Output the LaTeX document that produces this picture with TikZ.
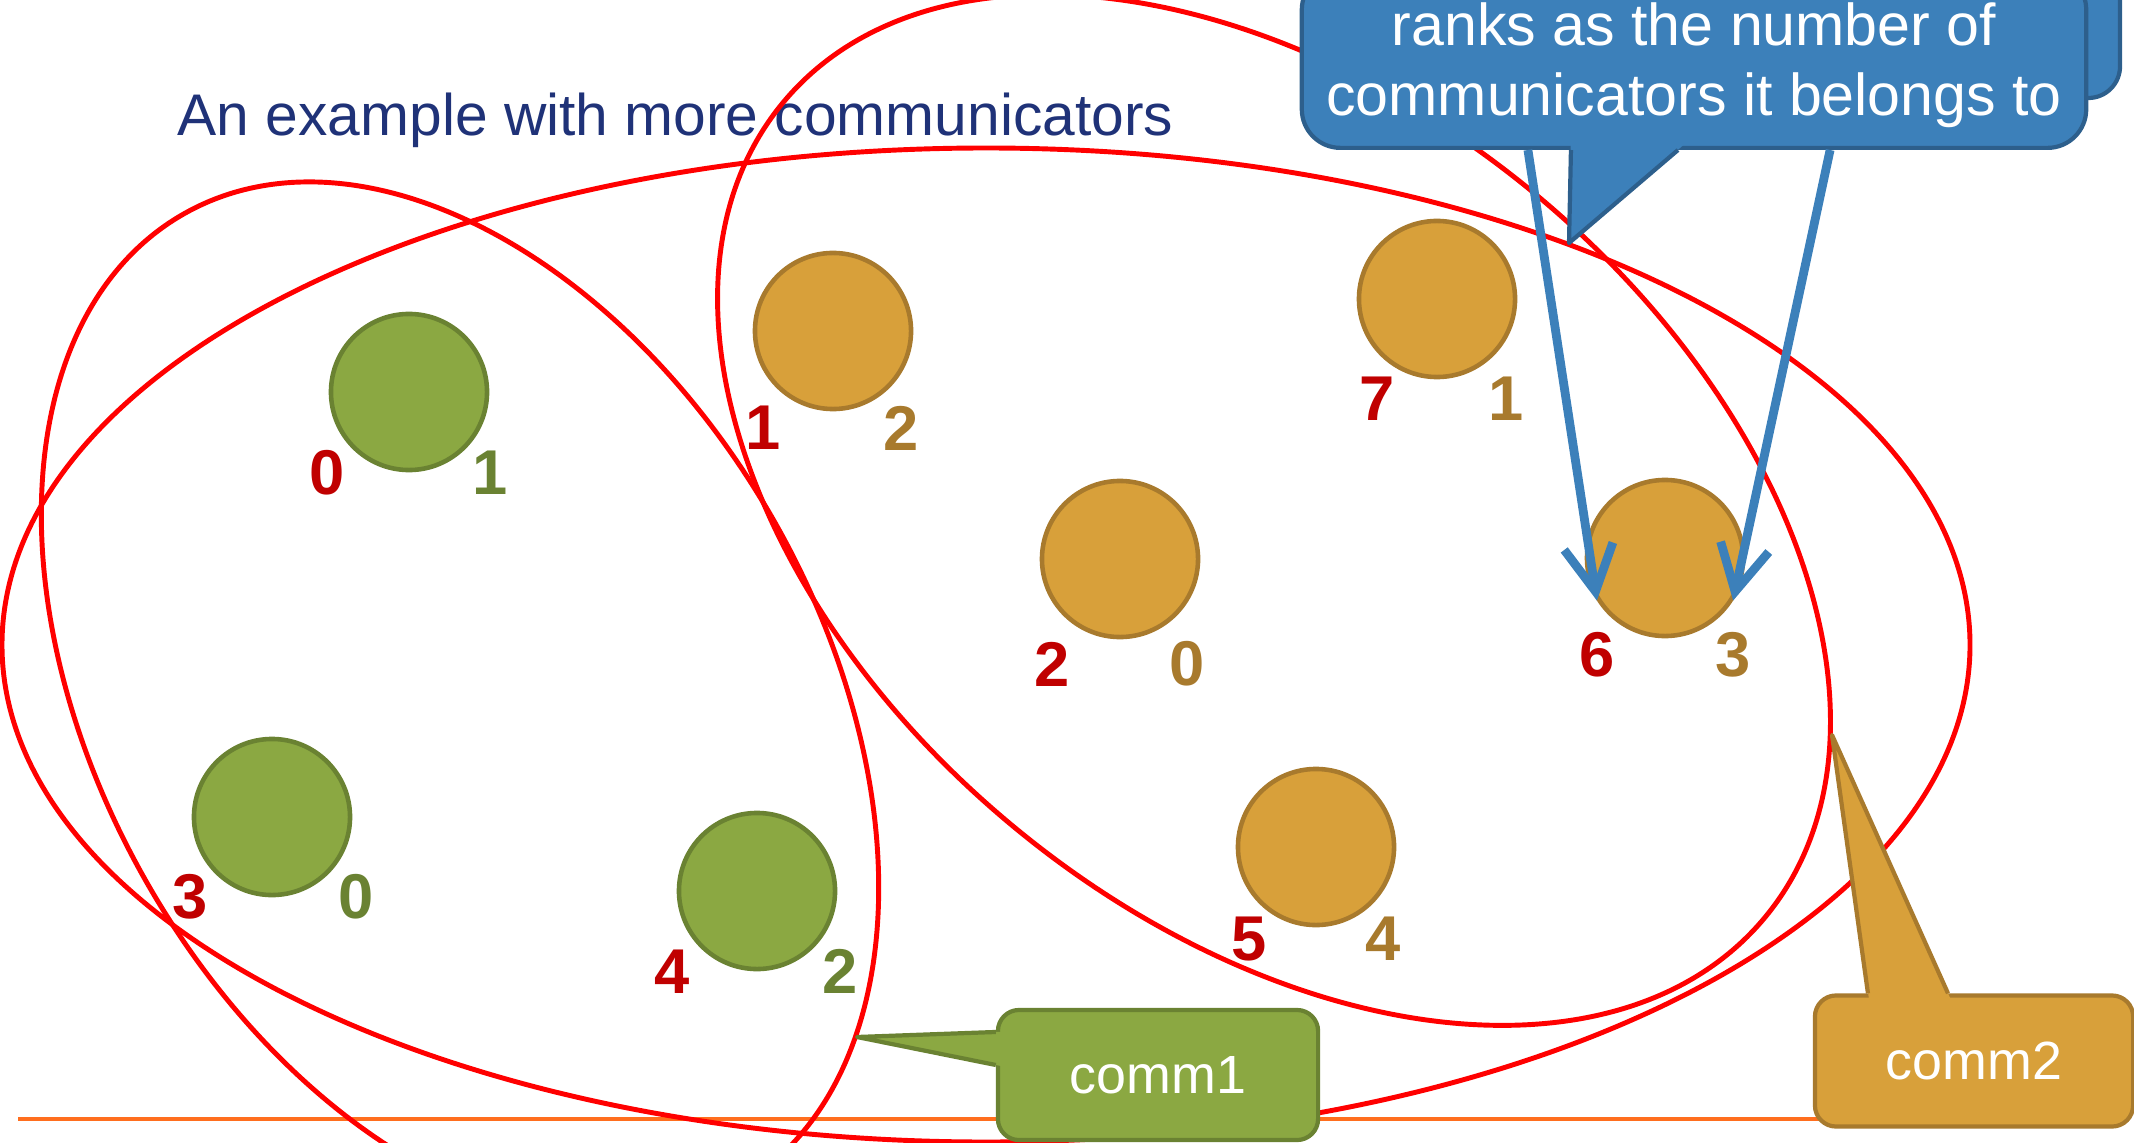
\documentclass[tikz,border=0pt]{standalone}
\usepackage{fontspec}
\setmainfont{Liberation Sans}
\usetikzlibrary{arrows.meta}

\definecolor{grnfill}{RGB}{139,168,66}
\definecolor{grnline}{RGB}{106,130,50}
\definecolor{orgfill}{RGB}{216,160,58}
\definecolor{orgline}{RGB}{168,122,45}
\definecolor{rankred}{RGB}{192,0,0}
\definecolor{noteblue}{RGB}{60,128,186}
\definecolor{noteline}{RGB}{45,95,140}
\definecolor{titleblue}{RGB}{31,50,120}
\definecolor{ruleorange}{RGB}{255,110,30}

\begin{document}
\begin{tikzpicture}
        [x=0.01cm, y=-0.01cm,
        proc/.style={circle, draw, line width=1.3pt, minimum size=1.56cm, inner sep=0pt},
        green proc/.style={proc, fill=grnfill, draw=grnline},
        orange proc/.style={proc, fill=orgfill, draw=orgline},
        rank/.style={font=\fontsize{18}{18}\selectfont\bfseries, inner sep=0pt},
        world/.style={rank, text=rankred},
        sub1/.style={rank, text=grnline},
        sub2/.style={rank, text=orgline},
        ring/.style={red, line width=1.4pt},
        tag/.style={draw, line width=1.2pt, rounded corners=6pt, text=white,
            font=\fontsize{15.3}{18}\selectfont, inner sep=0pt},
        pointer/.style={line width=1.2pt, line join=round},
        hint/.style={noteblue, line width=2.5pt, -{Straight Barb[length=13pt, width=14pt]}}]

        \useasboundingbox (0,0) rectangle (2134,1143);
        \clip (0,0) rectangle (2134,1143);

        \draw[ruleorange, line width=1pt] (18,1119) -- (1820,1119);

        \node[anchor=base west, inner sep=0pt, text=titleblue, font=\fontsize{16.7}{20}\selectfont]
            (title) at (177,136) {An example with more communicators};

        % processes
        \node[green proc] (p0) at (409,392) {};
        \node[green proc] (p3) at (272,817) {};
        \node[green proc] (p4) at (757,891) {};
        \node[orange proc] (p1) at (833,331) {};
        \node[orange proc] (p2) at (1120,559) {};
        \node[orange proc] (p7) at (1437,299) {};
        \node[orange proc] (p6) at (1665,558) {};
        \node[orange proc] (p5) at (1316,847) {};

        % ranks
        \node[world] (w0) at (327,473) {0};
        \node[sub1] (s0) at (490,473) {1};
        \node[world] (w3) at (190,897) {3};
        \node[sub1] (s3) at (356,897) {0};
        \node[world] (w4) at (672,972) {4};
        \node[sub1] (s4) at (840,971) {2};
        \node[world] (w1) at (763,428) {1};
        \node[sub2] (s1) at (901,428) {2};
        \node[world] (w2) at (1052,664) {2};
        \node[sub2] (s2) at (1187,664) {0};
        \node[world] (w7) at (1377,399) {7};
        \node[sub2] (s7) at (1506,399) {1};
        \node[world] (w6) at (1597,655) {6};
        \node[sub2] (s6) at (1733,655) {3};
        \node[world] (w5) at (1249,939) {5};
        \node[sub2] (s5) at (1383,939) {4};

        % communicators
        \draw[ring] (986,645) ellipse (984 and 497);
        \draw[ring, rotate around={-60.5:(460,701)}] (460,701) ellipse (560 and 362);
        \draw[ring, rotate around={-39.7:(1274,510)}] (1274,510) ellipse (638 and 410);

        \coordinate (tip0) at (1569,243);
        \coordinate (tip1) at (857,1037);
        \coordinate (tip2) at (1832,735);

        % note
        \draw[fill=noteblue, draw=noteline, line width=1.2pt, rounded corners=9pt] (1750,-100) rectangle (2120,98);
        \node[tag, fill=noteblue, draw=noteline, rounded corners=11pt, minimum width=7.84cm,
            align=center, anchor=south, text depth=0pt, inner ysep=9.1pt,
            font=\fontsize{16.8}{19.9}\selectfont]
            (note) at (1694,150) {ranks as the number of\\communicators it belongs to};
        \fill[noteblue] ([xshift=-12.3mm, yshift=2mm]note.south) -- (tip0) -- ([xshift=0.7mm, yshift=2mm]note.south) -- cycle;
        \draw[pointer, noteline] ([xshift=-12.3mm]note.south) -- (tip0) -- ([xshift=-1.6mm]note.south);

        \draw[hint] ([xshift=-16.6mm]note.south) -- (p6.212);
        \draw[hint] ([xshift=13.6mm]note.south) -- (p6.328);

        % comm1
        \node[tag, fill=grnfill, draw=grnline, minimum width=3.2cm, minimum height=1.3cm] (c1) at (1158,1075) {comm1};
        \fill[grnfill] ([xshift=2mm, yshift=4.37mm]c1.west) -- (tip1) -- ([xshift=2mm, yshift=0.6mm]c1.west) -- cycle;
        \draw[pointer, grnline] ([yshift=4.3mm]c1.west) -- (tip1) -- ([yshift=1mm]c1.west);

        % comm2
        \node[tag, fill=orgfill, draw=orgline, minimum width=3.18cm, minimum height=1.31cm] (c2) at (1974,1061) {comm2};
        \fill[orgfill] ([xshift=-10.3mm, yshift=-2mm]c2.north) -- (tip2) -- ([xshift=-1.7mm, yshift=-2mm]c2.north) -- cycle;
        \draw[pointer, orgline] ([xshift=-10.6mm]c2.north) -- (tip2) -- ([xshift=-2.6mm]c2.north);

    \end{tikzpicture}
\end{document}
